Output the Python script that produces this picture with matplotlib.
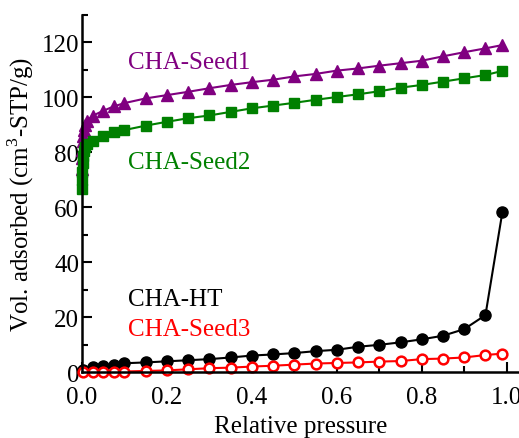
import matplotlib
matplotlib.use('Agg')
import matplotlib.pyplot as plt
from matplotlib.ticker import MultipleLocator

plt.rcParams['font.family'] = ['Liberation Serif', 'DejaVu Serif']
plt.rcParams['font.size'] = 18

# relative pressure points
p_low = [0.0003, 0.0006, 0.001, 0.002, 0.003, 0.005, 0.008, 0.012]
p_main = [0.025, 0.05, 0.075, 0.1, 0.15, 0.2, 0.25, 0.3, 0.35, 0.4, 0.45, 0.5,
          0.55, 0.6, 0.65, 0.7, 0.75, 0.8, 0.85, 0.9, 0.95, 0.99]

seed1 = [74, 78, 81, 84, 86, 88, 90, 91.5,
         93.3, 95.1, 96.7, 97.9, 99.6, 100.8, 102.0, 103.3, 104.5, 105.5, 106.4, 107.6,
         108.5, 109.7, 110.5, 111.5, 112.4, 113.3, 114.9, 116.4, 117.8, 119.0]
seed2 = [66.5, 70, 73, 76, 78.5, 80.5, 82, 83,
         84.0, 86.0, 87.3, 88.1, 89.7, 91.1, 92.4, 93.4, 94.7, 96.0, 97.0, 98.0,
         99.1, 100.1, 101.1, 102.2, 103.5, 104.5, 105.7, 106.9, 108.1, 109.6]

p_small = [0.003, 0.025, 0.05, 0.075, 0.1, 0.15, 0.2, 0.25, 0.3, 0.35, 0.4, 0.45, 0.5,
           0.55, 0.6, 0.65, 0.7, 0.75, 0.8, 0.85, 0.9, 0.95, 0.99]
cha_ht = [1.0, 1.8, 2.4, 2.8, 3.3, 3.6, 4.0, 4.4, 4.8, 5.4, 6.1, 6.5, 7.0,
          7.7, 8.2, 9.3, 10.0, 10.9, 12.0, 13.3, 15.7, 20.8, 58.4]
seed3 = [0.1, 0.1, 0.1, 0.2, 0.3, 0.5, 0.7, 1.1, 1.5, 1.7, 2.1, 2.4, 2.8,
         3.2, 3.4, 3.6, 3.9, 4.1, 4.8, 5.0, 5.4, 6.3, 6.8]

fig = plt.figure(figsize=(5.19, 4.39), dpi=100)
ax = fig.add_axes([0.158, 0.1496, 0.842, 0.8144])

p_big = p_low + p_main
ax.plot(p_big, seed1, color='#800080', marker='^', markersize=9, linewidth=1.5,
        clip_on=False)
ax.plot(p_big, seed2, color='#008000', marker='s', markersize=7.5, linewidth=1.5,
        clip_on=False)
ax.plot(p_small, cha_ht, color='black', marker='o', markersize=8, linewidth=1.5,
        clip_on=False)
ax.plot(p_small, seed3, color='red', marker='o', markersize=7, linewidth=1.5,
        markerfacecolor='white', markeredgewidth=1.8, clip_on=False)

ax.text(0.108, 113, 'CHA-Seed1', color='#800080', va='center')
ax.text(0.108, 76.5, 'CHA-Seed2', color='#008000', va='center')
ax.text(0.108, 26.7, 'CHA-HT', color='black', va='center')
ax.text(0.108, 15.7, 'CHA-Seed3', color='red', va='center')

ax.set_xlim(0, 1.029)
ax.set_ylim(0, 130)
ax.xaxis.set_major_locator(MultipleLocator(0.2))
ax.xaxis.set_minor_locator(MultipleLocator(0.1))
ax.yaxis.set_major_locator(MultipleLocator(20))
ax.yaxis.set_minor_locator(MultipleLocator(10))
ax.xaxis.set_major_formatter(plt.FuncFormatter(lambda v, _: f'{v:.1f}'))

ax.spines['top'].set_visible(False)
ax.spines['right'].set_visible(False)
for s in ('left', 'bottom'):
    ax.spines[s].set_linewidth(1.8)
ax.tick_params(which='major', direction='in', length=7, width=1.5, pad=2)
ax.tick_params(which='minor', direction='in', length=4, width=1.5)
ax.tick_params(axis='x', which='major', pad=10)

ax.set_xlabel('Relative pressure', labelpad=5)
ax.set_ylabel(r'Vol. adsorbed (cm$^{\mathregular{3}}$-STP/g)', labelpad=4)

fig.savefig('out.png', dpi=100)
